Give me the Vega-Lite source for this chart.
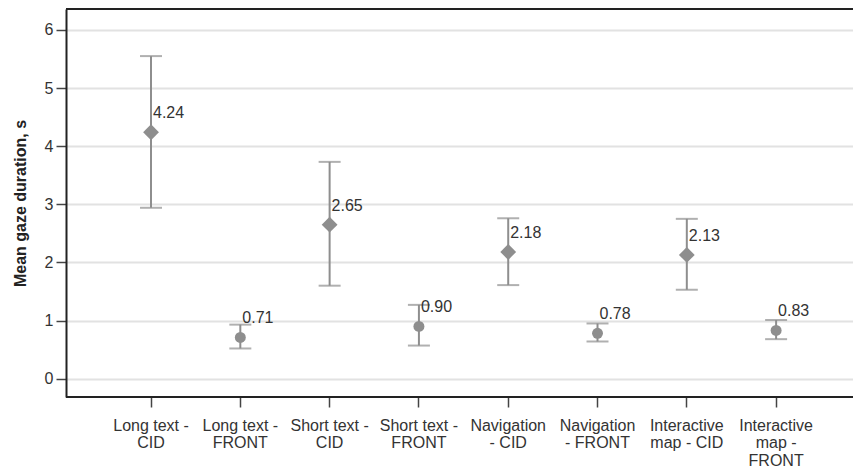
{
  "$schema": "https://vega.github.io/schema/vega-lite/v6.json",
  "width": 787,
  "height": 388,
  "padding": {"left": 12, "top": 8, "right": 0, "bottom": 0},
  "background": "white",
  "config": {
    "view": {"stroke": null},
    "font": "Liberation Sans",
    "axis": {"labelFont": "Liberation Sans", "titleFont": "Liberation Sans"}
  },
  "data": {
    "values": [
      {"cond": "Long text -\nCID", "type": "CID", "mean": 4.24, "lo": 2.94, "hi": 5.55},
      {"cond": "Long text -\nFRONT", "type": "FRONT", "mean": 0.71, "lo": 0.52, "hi": 0.93},
      {"cond": "Short text -\nCID", "type": "CID", "mean": 2.65, "lo": 1.60, "hi": 3.73},
      {"cond": "Short text -\nFRONT", "type": "FRONT", "mean": 0.90, "lo": 0.57, "hi": 1.27},
      {"cond": "Navigation\n- CID", "type": "CID", "mean": 2.18, "lo": 1.61, "hi": 2.76},
      {"cond": "Navigation\n- FRONT", "type": "FRONT", "mean": 0.78, "lo": 0.64, "hi": 0.95},
      {"cond": "Interactive\nmap - CID", "type": "CID", "mean": 2.13, "lo": 1.53, "hi": 2.75},
      {"cond": "Interactive\nmap -\nFRONT", "type": "FRONT", "mean": 0.83, "lo": 0.68, "hi": 1.01}
    ]
  },
  "encoding": {
    "x": {
      "field": "cond", "type": "nominal", "sort": null,
      "scale": {"type": "band", "paddingInner": 0, "paddingOuter": 0.4066, "align": 0.556},
      "axis": {
        "orient": "bottom", "title": null, "labelAngle": 0,
        "labelExpr": "split(datum.value, '\\n')",
        "labelFontSize": 16, "labelColor": "#333", "labelLineHeight": 17.5,
        "labelPadding": 10, "labelBaseline": "top",
        "tickSize": 10, "tickColor": "#444", "tickWidth": 1.5,
        "domain": false, "grid": false
      }
    }
  },
  "layer": [
    {
      "mark": {"type": "rule", "color": "#8e8e8e", "strokeWidth": 2},
      "encoding": {
        "y": {
          "field": "lo", "type": "quantitative",
          "scale": {"domain": [-0.315, 6.36], "nice": false, "zero": false},
          "axis": {
            "title": "Mean gaze duration, s", "titleFontSize": 16, "titleFontWeight": "bold",
            "titleColor": "#222", "titlePadding": 16, "format": "d",
            "values": [0, 1, 2, 3, 4, 5, 6], "labelFontSize": 16, "labelColor": "#333",
            "labelPadding": 3, "tickSize": 10, "tickColor": "#444", "tickWidth": 1.5,
            "domainColor": "#222", "domainWidth": 2,
            "grid": true, "gridColor": "#e2e2e2", "gridWidth": 2
          }
        },
        "y2": {"field": "hi"}
      }
    },
    {
      "mark": {"type": "tick", "color": "#8e8e8e", "thickness": 2, "size": 22, "orient": "horizontal"},
      "encoding": {
        "y": {"field": "lo", "type": "quantitative"}
      }
    },
    {
      "mark": {"type": "tick", "color": "#8e8e8e", "thickness": 2, "size": 22, "orient": "horizontal"},
      "encoding": {
        "y": {"field": "hi", "type": "quantitative"}
      }
    },
    {
      "mark": {"type": "point", "filled": true, "opacity": 1, "color": "#8e8e8e"},
      "encoding": {
        "y": {"field": "mean", "type": "quantitative"},
        "shape": {"field": "type", "type": "nominal", "scale": {"domain": ["CID", "FRONT"], "range": ["diamond", "circle"]}, "legend": null},
        "size": {"field": "type", "type": "nominal", "scale": {"domain": ["CID", "FRONT"], "range": [250, 120]}, "legend": null}
      }
    },
    {
      "mark": {"type": "text", "align": "left", "baseline": "middle", "dx": 2, "dy": -19, "fontSize": 16, "color": "#333"},
      "encoding": {
        "y": {"field": "mean", "type": "quantitative"},
        "text": {"field": "mean", "type": "quantitative", "format": ".2f"}
      }
    },
    {
      "data": {"values": [{"edge": 6.36}, {"edge": -0.315}]},
      "mark": {"type": "rule", "color": "#222", "strokeWidth": 2},
      "encoding": {
        "x": null,
        "y": {"field": "edge", "type": "quantitative"}
      }
    }
  ]
}
